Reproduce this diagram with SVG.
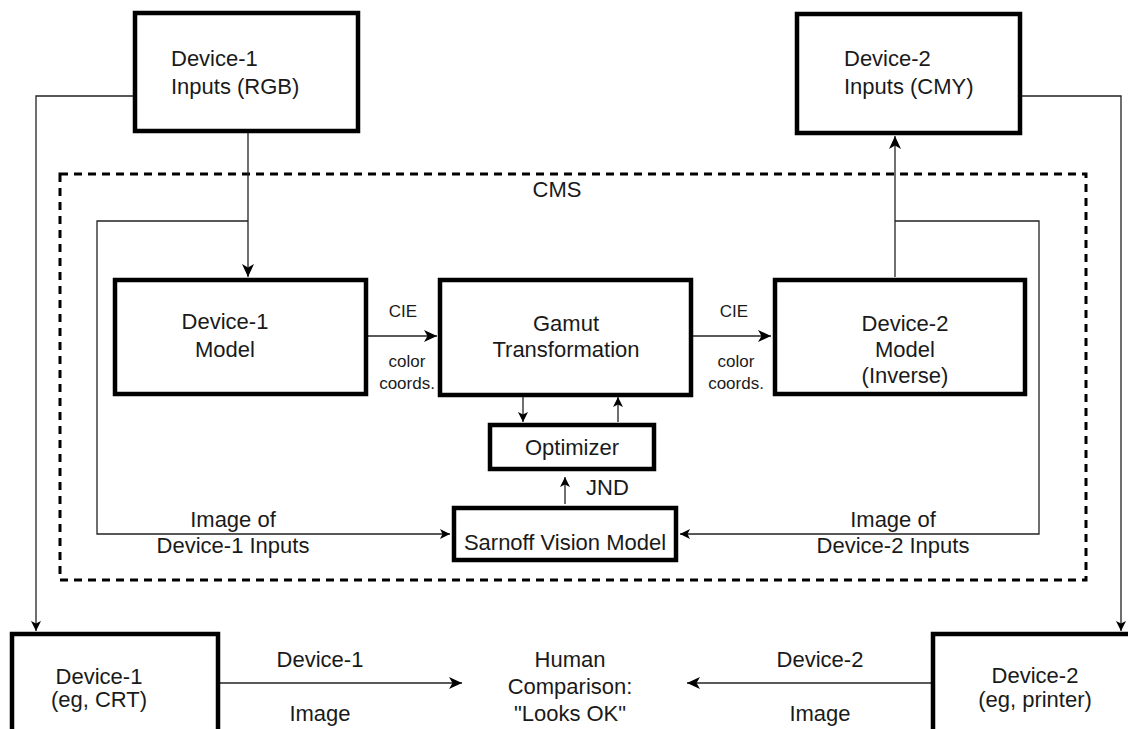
<svg xmlns="http://www.w3.org/2000/svg" width="1128" height="729" viewBox="0 0 1128 729">
<style>
.box{fill:#fff;stroke:#000;stroke-width:4.5}
.ln{fill:none;stroke:#222;stroke-width:1.3}
.t{font-family:"Liberation Sans",Arial,sans-serif;font-size:22px;fill:#1a1a1a}
.s{font-family:"Liberation Sans",Arial,sans-serif;font-size:17px;fill:#1a1a1a}
.c{text-anchor:middle}
</style>
<defs>
<marker id="ah" markerUnits="userSpaceOnUse" markerWidth="14" markerHeight="12" refX="13" refY="6" orient="auto">
<path d="M0,0 L13,6 L0,12 L3.5,6 z" fill="#000"/>
</marker>
<marker id="as" markerUnits="userSpaceOnUse" markerWidth="11" markerHeight="10" refX="10" refY="5" orient="auto">
<path d="M0,0 L10,5 L0,10 L2.5,5 z" fill="#000"/>
</marker>
</defs>
<rect x="0" y="0" width="1128" height="729" fill="#fff"/>

<g id="cms">
<rect x="60" y="174" width="1026" height="406" fill="none" stroke="#000" stroke-width="3" stroke-dasharray="8 6"/>
<text class="t c" x="557" y="197">CMS</text>
</g>

<g id="connectors">
<path class="ln" d="M133,96 H36 V631" marker-end="url(#as)"/>
<path class="ln" d="M1022,96 H1121 V631" marker-end="url(#as)"/>
<path class="ln" d="M248,133 V277" marker-end="url(#ah)"/>
<path class="ln" d="M248,221 H97 V534 H450" marker-end="url(#as)"/>
<path class="ln" d="M895,277 V136" marker-end="url(#ah)"/>
<path class="ln" d="M895,221 H1039 V534 H680" marker-end="url(#as)"/>
<path class="ln" d="M368,336 H437" marker-end="url(#ah)"/>
<path class="ln" d="M693,336 H771" marker-end="url(#ah)"/>
<path class="ln" d="M523,397 V422" marker-end="url(#as)"/>
<path class="ln" d="M618,422 V397" marker-end="url(#as)"/>
<path class="ln" d="M565,504 V477" marker-end="url(#as)"/>
<path class="ln" d="M220,683 H462" marker-end="url(#ah)"/>
<path class="ln" d="M931,683 H687" marker-end="url(#ah)"/>
</g>

<g id="labels">
<text class="s c" x="403" y="317">CIE</text>
<text class="s c" x="407" y="367">color</text>
<text class="s c" x="407" y="389">coords.</text>
<text class="s c" x="734" y="317">CIE</text>
<text class="s c" x="736" y="367">color</text>
<text class="s c" x="736" y="389">coords.</text>
<text class="t" x="586" y="495">JND</text>
<text class="t c" x="233" y="527">Image of</text>
<text class="t c" x="233" y="553">Device-1 Inputs</text>
<text class="t c" x="893" y="527">Image of</text>
<text class="t c" x="893" y="553">Device-2 Inputs</text>
<text class="t c" x="320" y="667">Device-1</text>
<text class="t c" x="320" y="721">Image</text>
<text class="t c" x="820" y="667">Device-2</text>
<text class="t c" x="820" y="721">Image</text>
</g>

<g id="d1in">
<rect class="box" x="135" y="13" width="223" height="118"/>
<text class="t" x="171" y="66">Device-1</text>
<text class="t" x="171" y="94">Inputs (RGB)</text>
</g>
<g id="d2in">
<rect class="box" x="797" y="14" width="223" height="119"/>
<text class="t" x="844" y="66">Device-2</text>
<text class="t" x="844" y="94">Inputs (CMY)</text>
</g>
<g id="d1model">
<rect class="box" x="115" y="280" width="251" height="114"/>
<text class="t c" x="225" y="329">Device-1</text>
<text class="t c" x="225" y="357">Model</text>
</g>
<g id="gamut">
<rect class="box" x="440" y="280" width="251" height="115"/>
<text class="t c" x="566" y="331">Gamut</text>
<text class="t c" x="566" y="357">Transformation</text>
</g>
<g id="d2model">
<rect class="box" x="775" y="280" width="250" height="114"/>
<text class="t c" x="905" y="331">Device-2</text>
<text class="t c" x="905" y="357">Model</text>
<text class="t c" x="905" y="383">(Inverse)</text>
</g>
<g id="optimizer">
<rect class="box" x="490" y="425" width="164" height="44"/>
<text class="t c" x="572" y="455">Optimizer</text>
</g>
<g id="sarnoff">
<rect class="box" x="454" y="508" width="222" height="52"/>
<text class="t c" x="565" y="550">Sarnoff Vision Model</text>
</g>
<g id="d1dev">
<rect class="box" x="12" y="634" width="206" height="110"/>
<text class="t c" x="99" y="684">Device-1</text>
<text class="t c" x="99" y="707">(eg, CRT)</text>
</g>
<g id="human">
<text class="t c" x="570" y="667">Human</text>
<text class="t c" x="570" y="694">Comparison:</text>
<text class="t c" x="570" y="721">"Looks OK"</text>
</g>
<g id="d2dev">
<rect class="box" x="933" y="634" width="210" height="110"/>
<text class="t c" x="1035" y="683">Device-2</text>
<text class="t c" x="1035" y="707">(eg, printer)</text>
</g>
</svg>
